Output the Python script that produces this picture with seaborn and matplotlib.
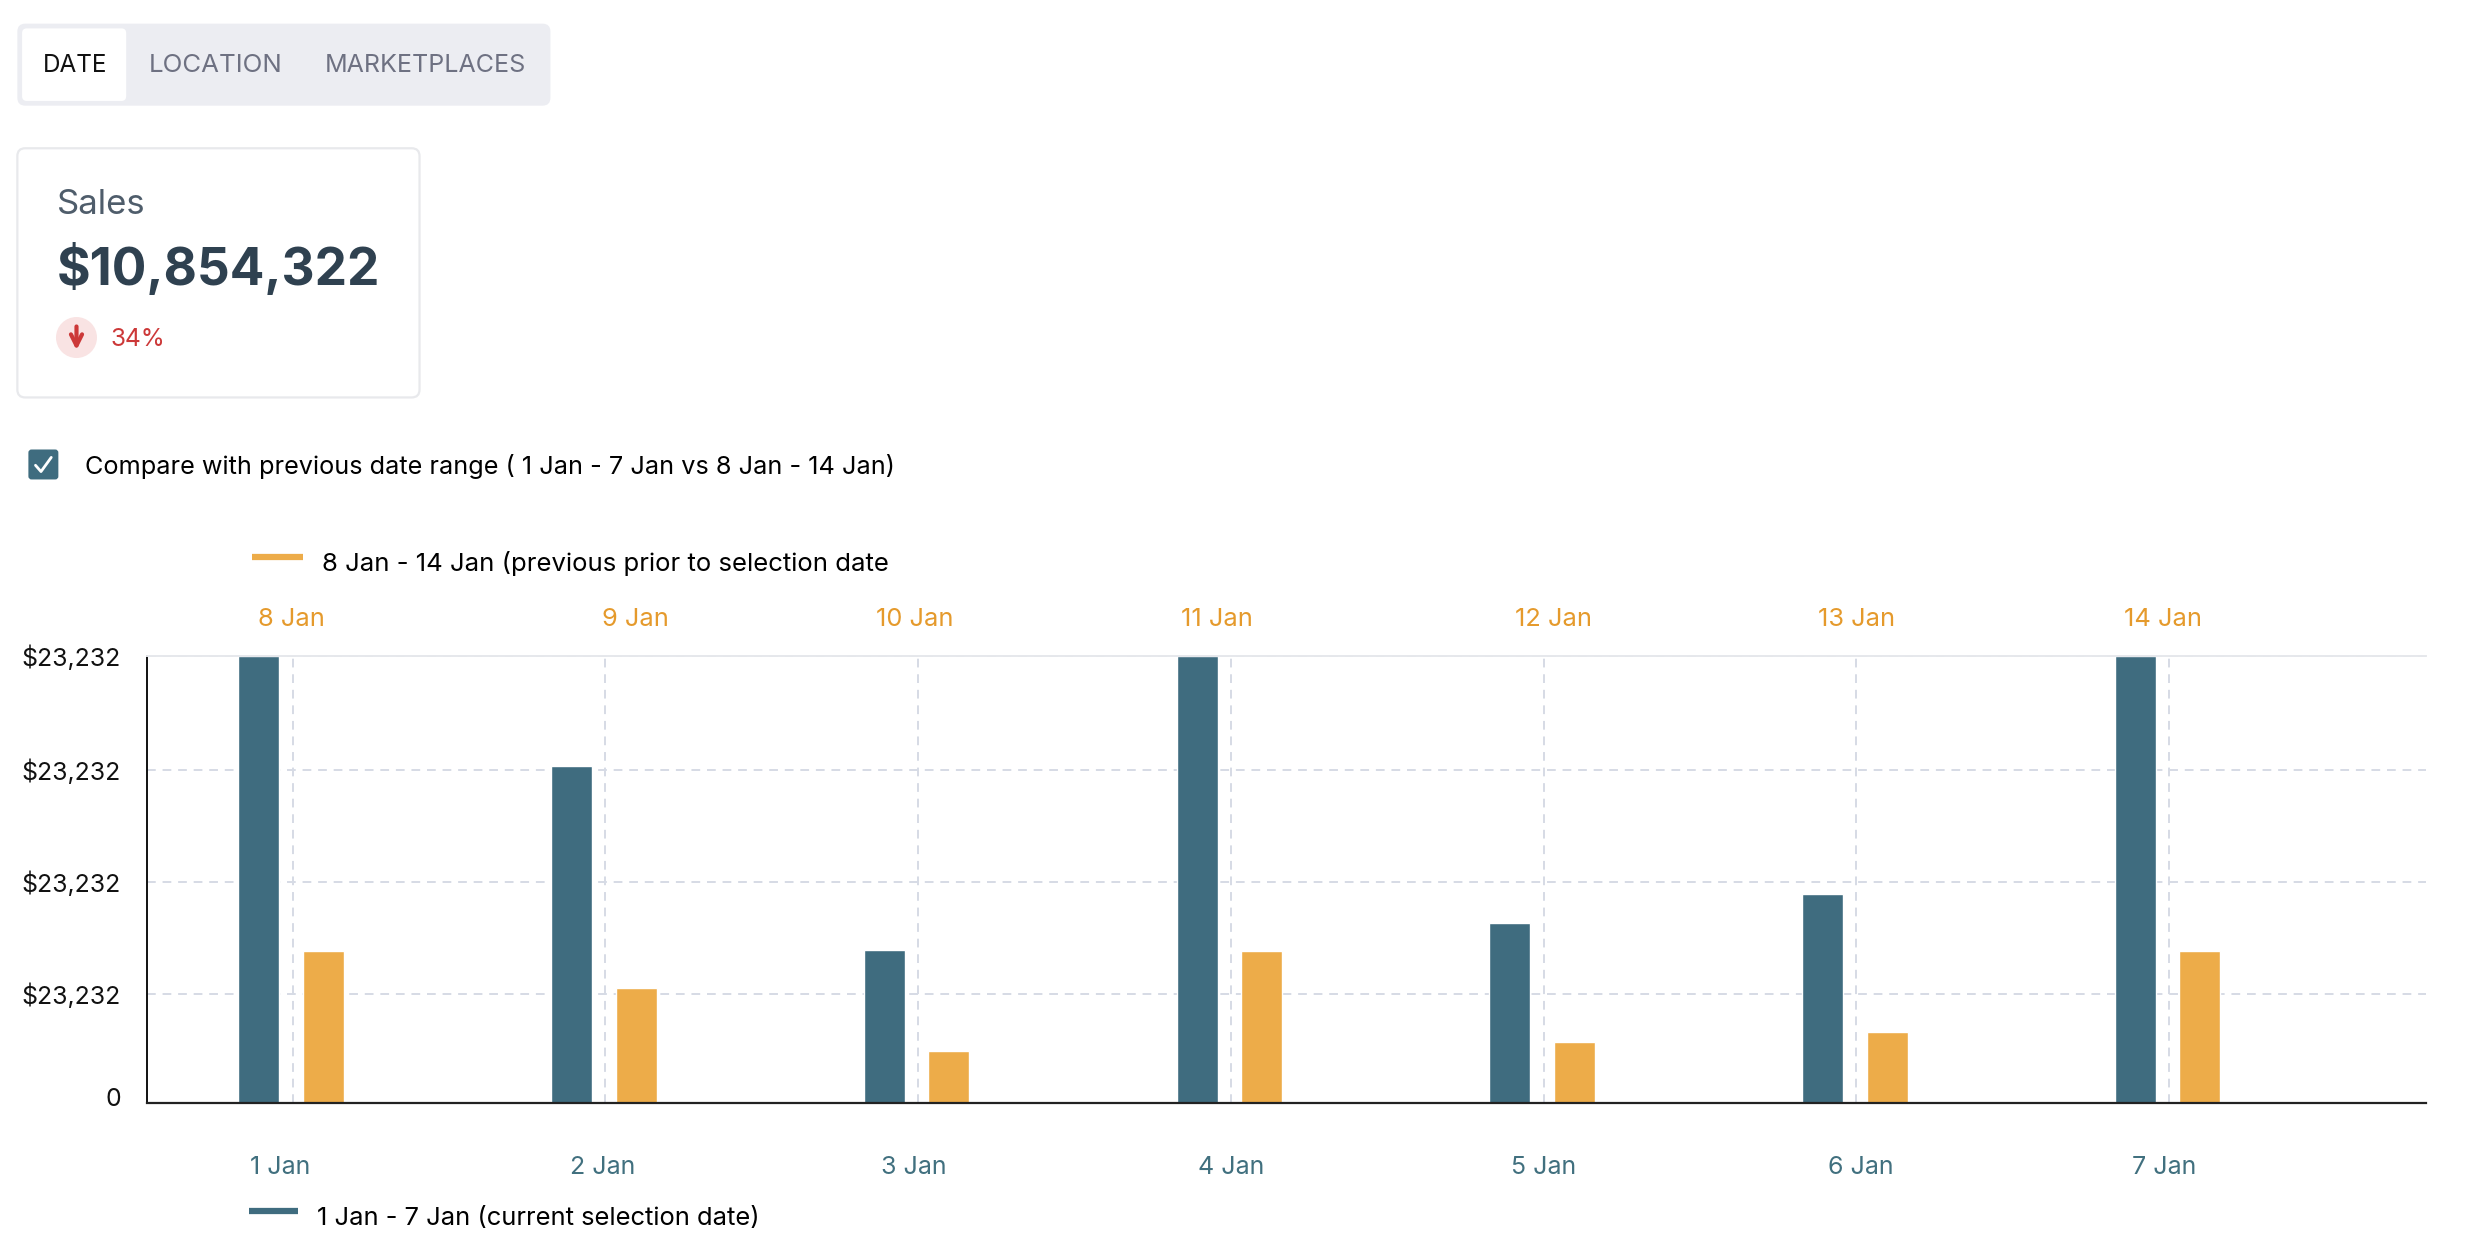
import matplotlib
matplotlib.use("Agg")
import matplotlib.pyplot as plt
import pandas as pd
import seaborn as sns
from matplotlib.patches import FancyBboxPatch, Circle
from matplotlib.transforms import ScaledTranslation

# chart values, in gridline units (every tick in the source reads $23,232)
current_days = ["1 Jan", "2 Jan", "3 Jan", "4 Jan", "5 Jan", "6 Jan", "7 Jan"]
previous_days = ["8 Jan", "9 Jan", "10 Jan", "11 Jan", "12 Jan", "13 Jan", "14 Jan"]
current_values = [4.0, 3.02, 1.37, 4.0, 1.61, 1.87, 4.0]
previous_values = [1.36, 1.03, 0.47, 1.36, 0.55, 0.64, 1.36]
tick_values = [0, 0.975, 1.98, 2.98, 4]
tick_labels = ["0", "$23,232", "$23,232", "$23,232", "$23,232"]

BLUE = "#3F6C7F"
ORANGE = "#EDAC49"
GRID = "#D6DBE5"
FONT = "Inter"

sns.set_theme(style="white")
plt.rcParams["font.family"] = [FONT, "DejaVu Sans"]

# layout measured on a 1568 wide view of the page
W = 1568
H = 1254 * W / 2473

fig = plt.figure(figsize=(24.73, 12.54), dpi=100, facecolor="white")

# page furniture
ui = fig.add_axes([0, 0, 1, 1])
ui.set_xlim(0, W)
ui.set_ylim(H, 0)
ui.axis("off")


def box(x0, y0, x1, y1, face, edge="none", lw=0, r=5):
    ui.add_patch(FancyBboxPatch((x0 + r, y0 + r), x1 - x0 - 2 * r, y1 - y0 - 2 * r,
                                boxstyle=f"round,pad={r},rounding_size={r}",
                                facecolor=face, edgecolor=edge, linewidth=lw))


def label(x, y, s, size=18.4, color="black", ha="left", weight="normal"):
    ui.text(x, y, s, fontsize=size, color=color, ha=ha, va="center", fontweight=weight)


box(11, 15, 349, 67, "#ECEDF2")
box(14, 18, 80, 64, "white", r=3)
label(27, 41.5, "DATE", size=17.5, color="#111111")
label(94, 41.5, "LOCATION", size=18.6, color="#6E7182")
label(206, 41.5, "MARKETPLACES", size=18, color="#6E7182")

box(11, 94, 266, 252, "white", "#E8E9EC", 1.6, r=5)
label(36, 130, "Sales", size=25, color="#4F5D6B")
label(36, 171, "$10,854,322", size=37, color="#2F4150", weight="bold")
ui.add_patch(Circle((48.5, 214), 13, facecolor="#F9E3E3", edgecolor="none"))
ui.annotate("", xy=(48.5, 222), xytext=(48.5, 207),
            arrowprops=dict(arrowstyle="->", color="#CC3838", lw=3, mutation_scale=20,
                            shrinkA=0, shrinkB=0))
label(70, 215.5, "34%", size=17.6, color="#CC3838")

box(18, 285, 37, 304, BLUE, r=2)
ui.plot([22.5, 26, 32.5], [295, 299, 290], color="white", lw=2)
label(54, 296, "Compare with previous date range ( 1 Jan - 7 Jan vs 8 Jan - 14 Jan)", size=18.2)

ui.plot([160, 192], [353, 353], color=ORANGE, lw=4.5, solid_capstyle="butt")
label(204, 357, "8 Jan - 14 Jan (previous prior to selection date", size=18.5)
ui.plot([158, 189], [768, 768], color=BLUE, lw=4.5, solid_capstyle="butt")
label(201, 772.5, "1 Jan - 7 Jan (current selection date)", size=18.4)

# the chart itself
df = pd.DataFrame({
    "day": current_days * 2,
    "series": ["current"] * 7 + ["previous"] * 7,
    "value": current_values + previous_values,
})

ax = fig.add_axes([93.5 / W, 1 - 699.5 / H, (1538 - 93.5) / W, (699.5 - 416) / H])
ax.patch.set_alpha(0)
sns.barplot(data=df, x="day", y="value", hue="series", order=current_days,
            palette={"current": BLUE, "previous": ORANGE},
            width=0.413, gap=0.366, saturation=1, legend=False, ax=ax)
ax.set_xlim(-0.464, 6.82)
ax.set_ylim(0, 4)
ax.set_xlabel("")
ax.set_ylabel("")
ax.set_axisbelow(True)
ax.grid(True, axis="both", color=GRID, linestyle=(0, (4.5, 3.5)), linewidth=1.4)

# bars are about a pixel left of the gridlines in the source
for bar in ax.patches:
    bar.set_x(bar.get_x() - 0.005)

ax.set_yticks(tick_values)
ax.set_yticklabels(tick_labels, fontsize=17.9, color="#111111")
ax.tick_params(axis="y", length=0, pad=19)
ax.tick_params(axis="x", length=0, labelbottom=False)
zero = ax.get_yticklabels()[0]
zero.set_transform(zero.get_transform() + ScaledTranslation(0, 6 / 100, fig.dpi_scale_trans))

for side in ["left", "bottom", "top"]:
    ax.spines[side].set_visible(True)
ax.spines["right"].set_visible(False)
ax.spines["left"].set_color("#111111")
ax.spines["left"].set_linewidth(1.4)
ax.spines["bottom"].set_color("#222222")
ax.spines["bottom"].set_linewidth(1.6)
ax.spines["top"].set_color("#E6E8EC")
ax.spines["top"].set_linewidth(1.4)

# date labels sit slightly off the group centres in the source
unit_x = 198.4
unit_y = (699.5 - 416) / 4
top_nudge = [-1, 19, -2, -9, 6, 0, -4]
bottom_nudge = [-8, -2, -3, 0, 0, 3, -3]
for i, name in enumerate(previous_days):
    ax.text(i + top_nudge[i] / unit_x, 4 + 23 / unit_y, name, fontsize=18.3, color="#E59A2C",
            ha="center", va="center", clip_on=False)
for i, name in enumerate(current_days):
    ax.text(i + bottom_nudge[i] / unit_x, -40.5 / unit_y, name, fontsize=18, color="#41707F",
            ha="center", va="center", clip_on=False)

fig.savefig("out.png", dpi=100)
